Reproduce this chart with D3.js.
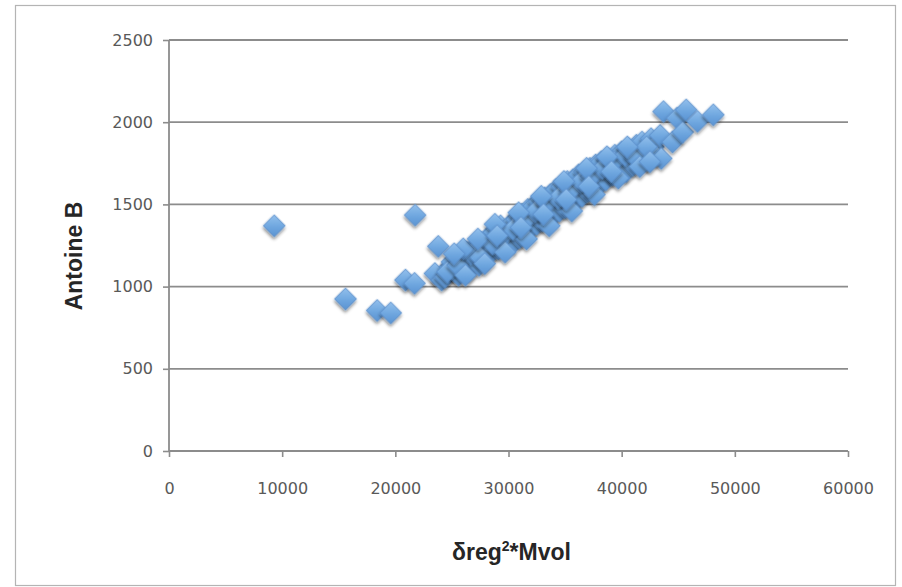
<!DOCTYPE html>
<html>
<head>
<meta charset="utf-8">
<script src="https://cdn.jsdelivr.net/npm/d3@7"></script>
<style>
  html, body { margin: 0; padding: 0; background: #ffffff; }
  svg { display: block; }
</style>
</head>
<body>
<svg id="chart" width="902" height="587"></svg>
<script>
// Solubility-parameter product vs. Antoine B coefficient
const xTicks = [0, 10000, 20000, 30000, 40000, 50000, 60000];
const yTicks = [0, 500, 1000, 1500, 2000, 2500];
const xTitle = "δreg";
const xTitleSup = "2";
const xTitleTail = "*Mvol";
const yTitle = "Antoine B";

// δreg²*Mvol values
const xValues = [
  9300, 15600, 18400, 19600, 20900, 21700, 21750, 23800,
  23500, 24100, 24400, 24800, 25000, 25300, 25600, 25900, 26100, 26300,
  26500, 26800, 27000, 27200, 27400, 27600, 27800, 28000, 28200, 28300,
  28500, 28700, 28900, 29100, 29300, 29400, 29600, 29800, 30000, 30200,
  30300, 30500, 30700, 30800, 31000, 31200, 31300, 31500, 31700, 31800,
  32000, 32200, 32300, 32500, 32700, 32800, 33000, 33200, 33300, 33500,
  33700, 33800, 34000, 34200, 34300, 34500, 34700, 34800, 35000, 35200,
  35300, 35500, 35700, 35800, 36000, 36200, 36300, 36500, 36700, 36800,
  37000, 37200, 37400, 37500, 37700, 37900, 38000, 38200, 38400, 38600,
  38800, 39000, 39200, 39400, 39600, 39800, 40000, 40200, 40400, 40600,
  40800, 41000, 41300, 41500, 41800, 42000, 42300, 42600, 42800, 43000,
  43400, 43500, 43700, 44500, 44900, 45400, 45700, 46700, 48100,
  24600, 25500, 26700, 27500, 28600, 29500, 30400, 31400, 32400, 33400,
  34400, 35400, 36400, 37300, 38300, 39300, 40300, 41200, 42200,
  26000, 27300, 28800, 30900, 32900, 34900, 36900, 38700, 40500,
  26200, 27900, 29700, 31600, 33600, 35600, 37600, 39700, 41600, 42500,
  25200, 29000, 31100, 33100, 35100, 37100, 39100
];

// Antoine B values, same order
const yValues = [
  1370, 925, 855, 840, 1040, 1020, 1435, 1245,
  1080, 1040, 1060, 1120, 1150, 1090, 1070, 1180, 1130, 1210,
  1100, 1160, 1240, 1190, 1130, 1270, 1220, 1180, 1300, 1250,
  1210, 1330, 1270, 1230, 1370, 1300, 1260, 1340, 1290, 1380,
  1320, 1270, 1410, 1350, 1300, 1440, 1380, 1330, 1470, 1410,
  1360, 1490, 1430, 1380, 1520, 1460, 1400, 1540, 1480, 1420,
  1560, 1500, 1440, 1590, 1520, 1460, 1610, 1550, 1480, 1640,
  1570, 1510, 1650, 1590, 1530, 1680, 1610, 1550, 1700, 1630,
  1580, 1720, 1660, 1600, 1740, 1680, 1620, 1760, 1700, 1650,
  1780, 1720, 1680, 1800, 1750, 1710, 1820, 1770, 1700, 1840,
  1790, 1740, 1860, 1810, 1880, 1830, 1770, 1900, 1850, 1800,
  1920, 1780, 2065, 1880, 2025, 1940, 2075, 2005, 2045,
  1090, 1130, 1200, 1180, 1260, 1310, 1350, 1400, 1460, 1510,
  1540, 1580, 1640, 1670, 1720, 1760, 1800, 1790, 1850,
  1230, 1290, 1380, 1450, 1550, 1640, 1720, 1790, 1850,
  1070, 1140, 1210, 1290, 1370, 1460, 1560, 1660, 1730, 1760,
  1200, 1310, 1360, 1440, 1530, 1610, 1700
];

const points = xValues.map((x, i) => ({ x, y: yValues[i] }));

const svg = d3.select("#chart");
const plot = { left: 169, right: 848, top: 40, bottom: 451 };

const x = d3.scaleLinear().domain([0, 60000]).range([plot.left, plot.right]);
const y = d3.scaleLinear().domain([0, 2500]).range([plot.bottom, plot.top]);

const defs = svg.append("defs");
const grad = defs.append("linearGradient")
  .attr("id", "markerFill")
  .attr("x1", "0%").attr("y1", "0%").attr("x2", "100%").attr("y2", "100%");
grad.append("stop").attr("offset", "0%").attr("stop-color", "#93c0ec");
grad.append("stop").attr("offset", "55%").attr("stop-color", "#6ea6df");
grad.append("stop").attr("offset", "100%").attr("stop-color", "#5a93d2");

const shadow = defs.append("filter")
  .attr("id", "markerShadow")
  .attr("x", "-50%").attr("y", "-50%").attr("width", "200%").attr("height", "200%");
shadow.append("feDropShadow")
  .attr("dx", 1.5).attr("dy", 2)
  .attr("stdDeviation", 1.4)
  .attr("flood-color", "#000000")
  .attr("flood-opacity", 0.45);

// Outer chart frame
svg.append("rect")
  .attr("x", 15.5).attr("y", 5.5)
  .attr("width", 880).attr("height", 580)
  .attr("fill", "#ffffff")
  .attr("stroke", "#b4b4b4")
  .attr("stroke-width", 1.2);

// Horizontal gridlines
svg.append("g")
  .selectAll("line")
  .data(yTicks.filter(t => t > 0))
  .join("line")
  .attr("x1", plot.left).attr("x2", plot.right)
  .attr("y1", d => y(d)).attr("y2", d => y(d))
  .attr("stroke", "#8c8c8c")
  .attr("stroke-width", 1.8);

// Axes
const tickFont = "'DejaVu Sans', sans-serif";

const yAxis = svg.append("g")
  .attr("transform", `translate(${plot.left},0)`)
  .call(d3.axisLeft(y).tickValues(yTicks).tickSize(6).tickPadding(10).tickFormat(d3.format("d")));

const xAxis = svg.append("g")
  .attr("transform", `translate(0,${plot.bottom})`)
  .call(d3.axisBottom(x).tickValues(xTicks).tickSize(6).tickPadding(26).tickFormat(d3.format("d")));

[yAxis, xAxis].forEach(g => {
  g.select(".domain").attr("stroke", "#8c8c8c").attr("stroke-width", 1.8);
  g.selectAll(".tick line").attr("stroke", "#8c8c8c").attr("stroke-width", 1.6);
  g.selectAll(".tick text")
    .attr("fill", "#595959")
    .style("font-family", tickFont)
    .style("font-size", "16px");
});
yAxis.select(".domain").attr("d", `M0,${plot.bottom}V${plot.top}`);
xAxis.select(".domain").attr("d", `M${plot.left},0H${plot.right}`);

// Markers
svg.append("g")
  .selectAll("path")
  .data(points)
  .join("path")
  .attr("d", d3.symbol(d3.symbolSquare, 240))
  .attr("transform", d => `translate(${x(d.x)},${y(d.y)}) rotate(45)`)
  .attr("fill", "url(#markerFill)")
  .attr("stroke", "#5a8fcc")
  .attr("stroke-width", 0.8)
  .attr("filter", "url(#markerShadow)");

// Axis titles
svg.append("text")
  .attr("transform", `translate(82,256) rotate(-90)`)
  .attr("text-anchor", "middle")
  .style("font-family", "'Liberation Sans', Arial, sans-serif")
  .style("font-weight", "bold")
  .style("font-size", "23px")
  .attr("fill", "#262626")
  .text(yTitle);

const xt = svg.append("text")
  .attr("x", (plot.left + plot.right) / 2 + 3)
  .attr("y", 560)
  .attr("text-anchor", "middle")
  .style("font-family", "'Liberation Sans', Arial, sans-serif")
  .style("font-weight", "bold")
  .style("font-size", "23px")
  .attr("fill", "#262626");
xt.append("tspan").text(xTitle);
xt.append("tspan").attr("dy", -9).style("font-size", "14px").text(xTitleSup);
xt.append("tspan").attr("dy", 9).text(xTitleTail);
</script>
</body>
</html>
